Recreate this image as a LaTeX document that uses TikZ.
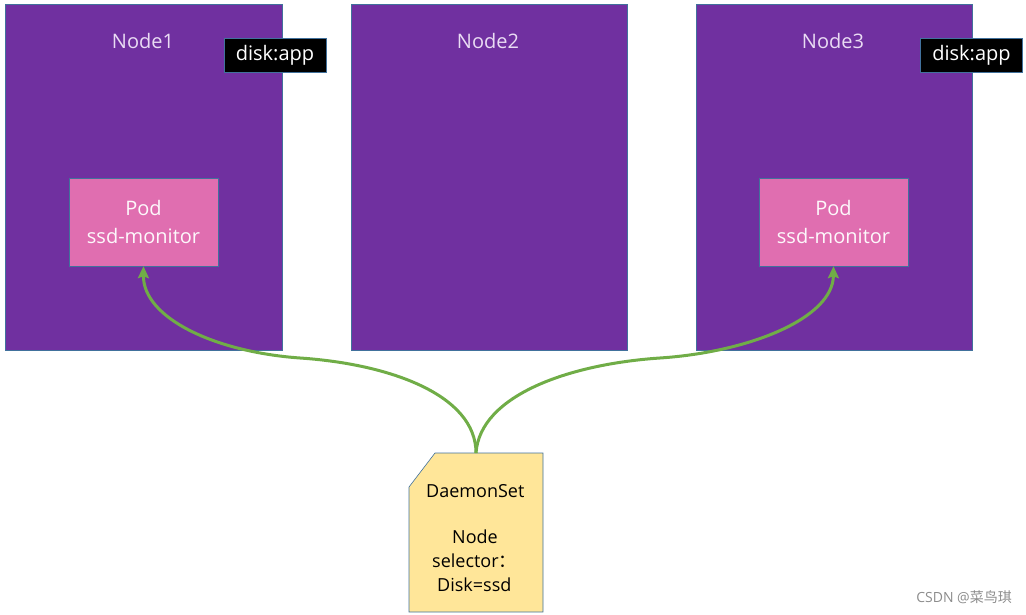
\documentclass[tikz,border=0pt]{standalone}
\usepackage{fontspec}
\setmainfont{Open Sans}
\newfontfamily\cjkfont{Noto Sans CJK SC}
\usetikzlibrary{arrows.meta}
\definecolor{nodepurple}{HTML}{7030A0}
\definecolor{edgeblue}{HTML}{41719C}
\definecolor{podpink}{HTML}{E06EB0}
\definecolor{docyellow}{HTML}{FFE699}
\definecolor{arrowgreen}{HTML}{70AD47}
\definecolor{lighttext}{HTML}{EADCF4}
\tikzset{
  x=1pt, y=-1pt,
  hostbox/.style={draw=edgeblue, line width=0.6pt, fill=nodepurple},
  hostlabel/.style={text=lighttext, font=\fontsize{20}{24}\selectfont, inner sep=0pt},
  tagbox/.style={draw=edgeblue, line width=0.6pt, fill=black, text=white, font=\fontsize{20}{24}\selectfont, minimum width=102pt, minimum height=34pt, inner sep=0pt},
  podbox/.style={draw=edgeblue, line width=0.4pt, fill=podpink, text=white!95!podpink, font=\fontsize{20}{28}\selectfont, minimum width=149pt, minimum height=88pt, align=center, inner sep=0pt},
  doctext/.style={font=\fontsize{18}{24}\selectfont, inner sep=0pt, anchor=west},
  flow/.style={draw=arrowgreen, line width=3pt, -{Stealth[length=12pt,width=11pt,inset=2pt]}},
}
\begin{document}
\begin{tikzpicture}
\useasboundingbox (0,0) rectangle (1026,615);
% hosts
\draw[hostbox] (5,4) rectangle (282,350);
\draw[hostbox] (351,4) rectangle (627,350);
\draw[hostbox] (696,4) rectangle (972,350);
\node[hostlabel] (n1) at (143,41) {Node1};
\node[hostlabel] (n2) at (488,41) {Node2};
\node[hostlabel] (n3) at (833,41) {Node3};
% tags
\node[tagbox] (t1) at (275,55) {disk:app};
\node[tagbox] (t3) at (971.5,55) {disk:app};
% pods
\node[podbox] (p1) at (143.5,222) {Pod\\ssd-monitor};
\node[podbox] (p3) at (833.5,222) {Pod\\ssd-monitor};
% daemonset document
\draw[draw=edgeblue, line width=0.6pt, fill=docyellow] (435,453) -- (543,453) -- (543,612) -- (409,612) -- (409,487) -- cycle;
\node[doctext] (dtitle) at (426,491) {DaemonSet};
\node[doctext] (dl1) at (452,537) {Node};
\node[doctext] (dl2) at (432,561) {selector{\cjkfont ：}};
\node[doctext] (dl3) at (437,585) {Disk=ssd};
\coordinate (ds) at (476,453);
% arrows
\draw[flow] (ds) .. controls (476,395) and (390,364) .. (300,358)
  .. controls (215,352) and (143,318) .. (p1.south);
\draw[flow] (ds) .. controls (480,395) and (570,364) .. (660,358)
  .. controls (750,352) and (833,318) .. (p3.south);
% watermark
\node[text=black!45, font=\fontsize{14}{16}\selectfont, inner sep=0pt, anchor=east] (wm) at (1012,597) {CSDN @{\cjkfont 菜鸟琪}};
\end{tikzpicture}
\end{document}
